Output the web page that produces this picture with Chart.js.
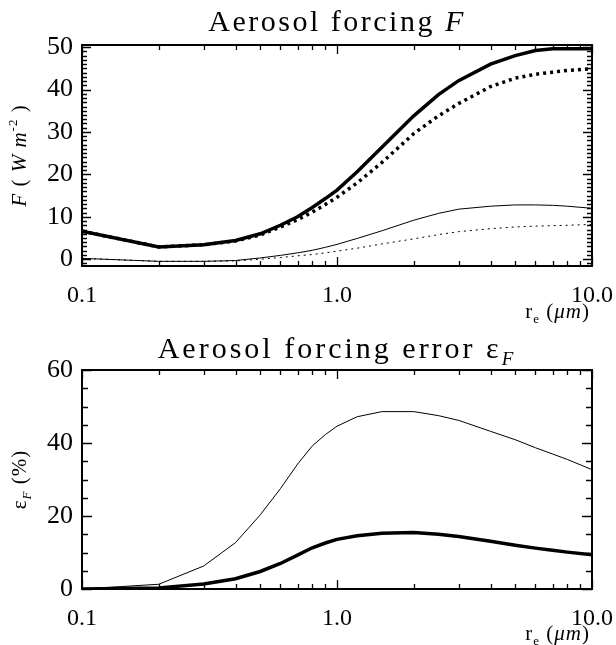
<!DOCTYPE html>
<html>
<head>
<meta charset="utf-8">
<title>Aerosol forcing</title>
<script src="https://cdn.jsdelivr.net/npm/chart.js@4.4.1/dist/chart.umd.min.js"></script>
<style>
  body { margin: 0; background: #fff; }
  canvas { display: block; }
</style>
</head>
<body>
<canvas id="forcing" width="616" height="325"></canvas>
<canvas id="error" width="616" height="320"></canvas>
<script>
// effective radius r_e (um), sample points shared by all curves
const radii = [0.1, 0.2, 0.3, 0.4, 0.5, 0.6, 0.7, 0.8, 0.9, 1.0, 1.2, 1.5, 2.0, 2.5, 3.0, 4.0, 5.0, 6.0, 7.0, 8.0, 10.0];

// top panel: forcing F (W m^-2)
const forcingThick       = [6.6, 2.9, 3.4, 4.4, 6.0, 8.0, 10.0, 12.2, 14.3, 16.3, 20.6, 26.4, 33.8, 38.8, 42.1, 46.0, 48.0, 49.2, 49.6, 49.6, 49.6];
const forcingThickDotted = [6.6, 2.9, 3.4, 4.3, 5.7, 7.6, 9.3, 11.1, 12.9, 14.6, 18.0, 22.8, 29.6, 33.8, 36.7, 40.7, 42.7, 43.6, 44.1, 44.5, 44.9];
const forcingThin        = [0.2, -0.5, -0.5, -0.3, 0.3, 0.9, 1.5, 2.1, 2.8, 3.5, 4.9, 6.7, 9.2, 10.8, 11.8, 12.5, 12.8, 12.8, 12.7, 12.5, 12.0];
const forcingThinDotted  = [0.2, -0.5, -0.5, -0.4, 0.0, 0.4, 0.8, 1.1, 1.5, 1.9, 2.6, 3.6, 4.8, 5.8, 6.5, 7.2, 7.6, 7.8, 7.9, 8.0, 8.2];

// bottom panel: forcing error (%)
const errorThin  = [0.0, 1.3, 6.3, 12.7, 20.3, 27.5, 34.2, 39.2, 42.3, 44.6, 47.2, 48.6, 48.6, 47.5, 46.2, 43.2, 40.9, 38.7, 37.0, 35.5, 32.7];
const errorThick = [0.0, 0.3, 1.4, 2.8, 4.8, 7.0, 9.3, 11.3, 12.6, 13.6, 14.6, 15.3, 15.5, 15.0, 14.4, 13.1, 12.0, 11.2, 10.6, 10.1, 9.4];

// tick labels
const xTickValues = [0.1, 1, 10];
const xTickLabels = ['0.1', '1.0', '10.0'];
const xMinorTicks = [0.1, 0.2, 0.3, 0.4, 0.5, 0.6, 0.7, 0.8, 0.9, 1, 2, 3, 4, 5, 6, 7, 8, 9, 10];
const forcingYTicks = [0, 10, 20, 30, 40, 50];
const errorYTicks = [0, 20, 40, 60];

const SERIF = '"Liberation Serif", "DejaVu Serif", serif';
Chart.defaults.font.family = SERIF;
Chart.defaults.color = '#000';

function pairs(ys) {
  return radii.map((r, i) => ({ x: r, y: ys[i] }));
}

function line(ys, width, dash) {
  return {
    data: pairs(ys),
    borderColor: '#000',
    borderWidth: width,
    borderDash: dash || [],
    borderCapStyle: 'butt',
    pointRadius: 0,
    tension: 0,
    fill: false
  };
}

// draws text made of pieces (italic, sub/superscript)
function richText(ctx, parts, x, y, align, size, spacing) {
  const fontOf = p => (p.italic ? 'italic ' : '') + Math.round(p.sub || p.sup ? size * 0.62 : size) + 'px ' + SERIF;
  ctx.letterSpacing = spacing + 'px';
  let total = 0;
  parts.forEach(p => { ctx.font = fontOf(p); total += ctx.measureText(p.t).width; });
  let cx = align === 'center' ? x - total / 2 : align === 'right' ? x - total : x;
  ctx.textAlign = 'left';
  ctx.textBaseline = 'alphabetic';
  parts.forEach(p => {
    ctx.font = fontOf(p);
    const dy = p.sub ? size * 0.22 : p.sup ? -size * 0.45 : 0;
    ctx.fillText(p.t, cx, y + dy);
    cx += ctx.measureText(p.t).width;
  });
  ctx.letterSpacing = '0px';
}

// IDL style box with inward ticks on all four sides, plus titles
const idlFrame = {
  id: 'idlFrame',
  afterDraw(chart, args, opts) {
    const { ctx, chartArea: a, scales: { x, y } } = chart;
    ctx.save();
    ctx.strokeStyle = '#000';
    ctx.lineWidth = 1.3;
    ctx.beginPath();
    xMinorTicks.forEach(v => {
      const px = Math.round(x.getPixelForValue(v)) + 0.5;
      const len = xTickValues.includes(v) ? 9 : 5;
      ctx.moveTo(px, a.bottom); ctx.lineTo(px, a.bottom - len);
      ctx.moveTo(px, a.top); ctx.lineTo(px, a.top + len);
    });
    for (let v = opts.yFrom; v <= y.max + 1e-6; v += opts.yMinor) {
      const py = Math.round(y.getPixelForValue(v)) + 0.5;
      const len = v % opts.yMajor === 0 ? opts.majorLen : opts.minorLen;
      ctx.moveTo(a.left, py); ctx.lineTo(a.left + len, py);
      ctx.moveTo(a.right, py); ctx.lineTo(a.right - len, py);
    }
    ctx.stroke();
    ctx.lineWidth = 2;
    ctx.strokeRect(a.left, a.top, a.width, a.height);

    ctx.fillStyle = '#000';
    richText(ctx, opts.title, (a.left + a.right) / 2, opts.titleY, 'center', 30, opts.titleSpacing);
    richText(ctx, [{ t: 'r' }, { t: 'e', sub: true }, { t: ' (' }, { t: 'μm', italic: true }, { t: ')' }],
      a.right - 2, opts.xTitleY, 'right', 21, 1);
    ctx.translate(26, (a.top + a.bottom) / 2);
    ctx.rotate(-Math.PI / 2);
    richText(ctx, opts.yTitle, 0, 0, 'center', 21, 1);
    ctx.restore();
  }
};

function makeChart(id, datasets, yMin, yMax, yTicks, frame, canvasH, bottom) {
  return new Chart(document.getElementById(id), {
    type: 'line',
    data: { datasets: datasets },
    options: {
      responsive: false,
      animation: false,
      layout: { padding: { top: 45, right: 24, left: 0, bottom: 0 } },
      plugins: { legend: { display: false }, tooltip: { enabled: false }, idlFrame: frame },
      scales: {
        x: {
          type: 'logarithmic',
          min: 0.1,
          max: 10,
          grid: { display: false, drawTicks: false },
          border: { display: false },
          afterBuildTicks: s => { s.ticks = xTickValues.map(v => ({ value: v })); },
          afterFit: s => { s.height = canvasH - bottom; s.paddingLeft = 0; s.paddingRight = 0; },
          ticks: {
            autoSkip: false,
            maxRotation: 0,
            padding: 15,
            font: { size: 24 },
            callback: (v, i) => xTickLabels[i]
          }
        },
        y: {
          min: yMin,
          max: yMax,
          grid: { display: false, drawTicks: false },
          border: { display: false },
          afterBuildTicks: s => { s.ticks = yTicks.map(v => ({ value: v })); },
          afterFit: s => { s.width = 82; s.paddingTop = 0; s.paddingBottom = 0; },
          ticks: { padding: 9, font: { size: 26 } }
        }
      }
    },
    plugins: [idlFrame]
  });
}

makeChart('forcing', [
  line(forcingThick, 3.5),
  line(forcingThickDotted, 3.5, [3, 4]),
  line(forcingThin, 1),
  line(forcingThinDotted, 1, [2, 4])
], -1.6, 50.5, forcingYTicks, {
  title: [{ t: 'Aerosol forcing ' }, { t: 'F', italic: true }],
  titleY: 31,
  titleSpacing: 2.5,
  xTitleY: 318,
  yTitle: [{ t: 'F', italic: true }, { t: ' ( ' }, { t: 'W m', italic: true }, { t: '-2', sup: true }, { t: ' )' }],
  yFrom: -1, yMinor: 1, yMajor: 10, minorLen: 5, majorLen: 9
}, 325, 266);

makeChart('error', [
  line(errorThin, 1),
  line(errorThick, 3.5)
], 0, 60, errorYTicks, {
  title: [{ t: 'Aerosol forcing error ε' }, { t: 'F', italic: true, sub: true }],
  titleY: 33,
  titleSpacing: 3,
  xTitleY: 315,
  yTitle: [{ t: 'ε' }, { t: 'F', italic: true, sub: true }, { t: ' (%)' }],
  yFrom: 0, yMinor: 5, yMajor: 20, minorLen: 6, majorLen: 10
}, 320, 264);
</script>
</body>
</html>
